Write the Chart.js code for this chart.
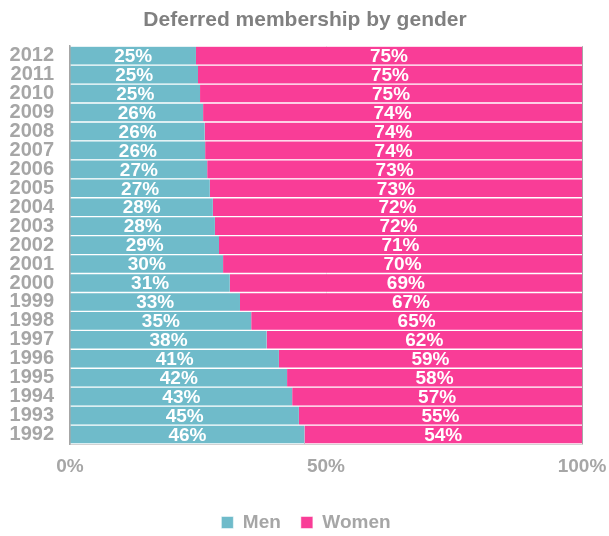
<!DOCTYPE html>
<html>
<head>
<meta charset="utf-8">
<script src="https://cdn.jsdelivr.net/npm/chart.js@4/dist/chart.umd.min.js"></script>
<style>
  html, body { margin: 0; padding: 0; background: #fff; }
  #wrap { width: 609px; height: 536px; }
</style>
</head>
<body>
<div id="wrap"><canvas id="myChart"></canvas></div>
<script>
const years = ['2012', '2011', '2010', '2009', '2008', '2007', '2006', '2005', '2004', '2003', '2002',
    '2001', '2000', '1999', '1998', '1997', '1996', '1995', '1994', '1993', '1992']
const men = [24.6, 25.0, 25.4, 26.0, 26.3, 26.4, 26.8, 27.3, 27.9, 28.3, 29.1,
    29.9, 31.2, 33.2, 35.4, 38.4, 40.8, 42.4, 43.4, 44.7, 45.8]
const women = [75.4, 75.0, 74.6, 74.0, 73.7, 73.6, 73.2, 72.7, 72.1, 71.7, 70.9,
    70.1, 68.8, 66.8, 64.6, 61.6, 59.2, 57.6, 56.6, 55.3, 54.2]
const xTicks = [0, 50, 100]

const FONT = 'Liberation Sans, Arial, sans-serif'
const GREY = '#a6a6a6'

// white percentage text in the middle of every segment
const barLabels = {
    id: 'barLabels',
    afterInit(chart) {
        // keep the legend block a fixed height so the plot stays put
        const lg = chart.legend
        const fit = lg.fit
        lg.fit = function () {
            fit.call(this)
            this.height = 43
        }
    },
    afterLayout(chart) {
        // title and legend are centred on the whole canvas, not the plot
        chart.legend.left += 15
        chart.legend.right += 15
        chart.titleBlock.left += 14
        chart.titleBlock.right += 14
    },
    afterDatasetsDraw(chart) {
        const c = chart.ctx
        c.save()
        c.font = 'bold 19px ' + FONT
        c.fillStyle = '#fff'
        c.textAlign = 'center'
        c.textBaseline = 'middle'
        chart.data.datasets.forEach((ds, i) => {
            chart.getDatasetMeta(i).data.forEach((bar, j) => {
                const p = bar.getProps(['x', 'y', 'base'], true)
                c.fillText(Math.round(ds.data[j]) + '%', (p.x + p.base) / 2, p.y + 1)
            })
        })
        c.restore()
    }
}

const ctx = document.getElementById('myChart')

new Chart(ctx, {
    type: 'bar',
    data: {
        labels: years,
        datasets: [{
            label: 'Men',
            data: men,
            backgroundColor: '#6fbbca',
            borderColor: '#fff',
            borderWidth: { top: 1, bottom: 1, left: 0, right: 0 },
            borderSkipped: false,
            barPercentage: 1,
            categoryPercentage: 1
        }, {
            label: 'Women',
            data: women,
            backgroundColor: '#f93d97',
            borderColor: '#fff',
            borderWidth: { top: 1, bottom: 1, left: 0, right: 0 },
            borderSkipped: false,
            barPercentage: 1,
            categoryPercentage: 1
        }]
    },
    options: {
        indexAxis: 'y',
        responsive: true,
        maintainAspectRatio: false,
        animation: false,
        layout: { padding: { left: 0, right: 27, top: 0, bottom: 0 } },
        scales: {
            x: {
                stacked: true,
                min: 0,
                max: 100,
                afterBuildTicks: (s) => { s.ticks = xTicks.map(v => ({ value: v })) },
                ticks: {
                    callback: (v) => v + '%',
                    color: GREY,
                    font: { family: FONT, size: 19, weight: 'bold' },
                    padding: 11,
                    maxRotation: 0
                },
                grid: { color: GREY, drawTicks: false, lineWidth: 1 },
                border: { color: GREY, width: 1.5 },
                afterFit: (s) => {
                    s.height = 49
                    s.paddingLeft = 0
                    s.paddingRight = 0
                }
            },
            y: {
                stacked: true,
                ticks: {
                    color: GREY,
                    font: { family: FONT, size: 20, weight: 'bold' },
                    padding: 16,
                    autoSkip: false
                },
                grid: { display: false, drawTicks: false },
                border: { color: GREY, width: 1.5 },
                afterFit: (s) => { s.width = 70 }
            }
        },
        plugins: {
            title: {
                display: true,
                text: 'Deferred membership by gender',
                color: '#808080',
                font: { family: FONT, size: 21, weight: 'bold' },
                padding: { top: 8, bottom: 13 }
            },
            legend: {
                position: 'bottom',
                labels: {
                    color: GREY,
                    font: { family: FONT, size: 19, weight: 'bold' },
                    boxWidth: 12,
                    boxHeight: 12,
                    padding: 20
                }
            },
            tooltip: { enabled: false }
        }
    },
    plugins: [barLabels]
});
</script>
</body>
</html>
